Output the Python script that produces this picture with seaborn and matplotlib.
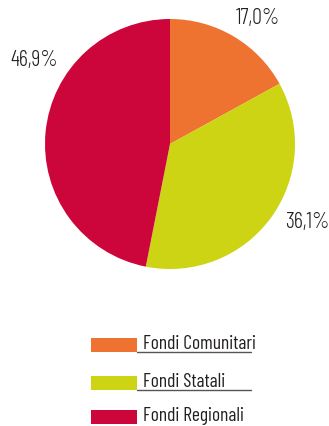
import matplotlib
matplotlib.use("Agg")
import matplotlib.pyplot as plt
from matplotlib.patches import Rectangle
import seaborn as sns

categories = ["Fondi Comunitari", "Fondi Statali", "Fondi Regionali"]
values = [17.0, 36.1, 46.9]
colors = ["#EE7330", "#CCD414", "#CC063B"]

sns.set_style("white")
plt.rcParams["font.family"] = ["Barlow Condensed", "DejaVu Sans"]

W, H = 329, 426
fig = plt.figure(figsize=(W / 100, H / 100), dpi=100)

# overlay axes in pixel coordinates for labels and legend
ov = fig.add_axes([0, 0, 1, 1])
ov.set_xlim(0, W)
ov.set_ylim(H, 0)
ov.axis("off")

# pie: centre (170,144), radius 125 px
cx, cy, r = 170, 144, 125
ax = fig.add_axes([(cx - r) / W, (H - cy - r) / H, 2 * r / W, 2 * r / H])
ax.pie(values, colors=colors, startangle=90, counterclock=False,
       wedgeprops=dict(linewidth=0))
ax.set_xlim(-1, 1)
ax.set_ylim(-1, 1)
ax.set_aspect("equal")
ax.axis("off")

def pct(v):
    return f"{v:.1f}".replace(".", ",") + "%"

label_pos = [(258, 19), (307, 222), (34, 60)]
for v, (x, y) in zip(values, label_pos):
    ov.text(x, y, pct(v), ha="center", va="center", fontsize=16,
            fontweight=300, color="#231F20")

# legend
rows_y = [338, 376, 410]
for i, (cat, col) in enumerate(zip(categories, colors)):
    y = rows_y[i]
    ov.add_patch(Rectangle((91, y), 46, 14, facecolor=col, edgecolor="none"))
    ov.text(143, y + 11, cat, ha="left", va="baseline", fontsize=14,
            fontweight=400, color="#231F20")
    if i < 2:
        ov.plot([137, 251], [y + 14, y + 14], color="#555555", lw=1.0)

fig.savefig("out.png", dpi=100)
